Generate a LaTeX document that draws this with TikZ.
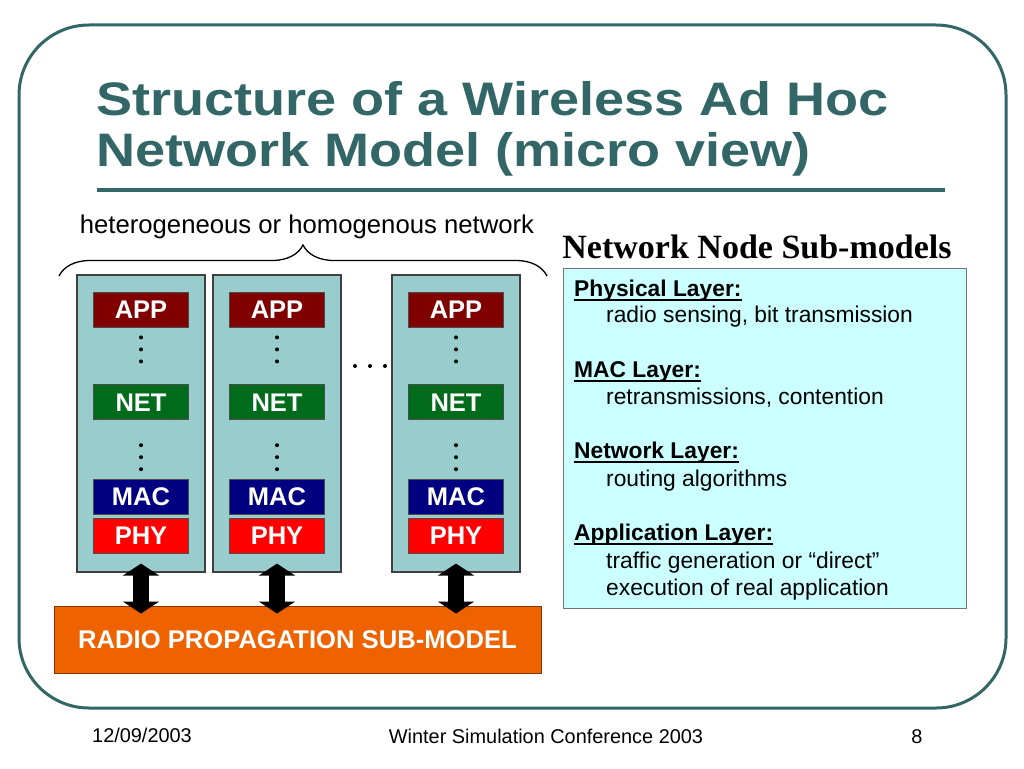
\documentclass[tikz,border=0pt]{standalone}
\usepackage{fontspec}
\setmainfont{Liberation Sans}
\newfontfamily\titlefont{Liberation Sans}[FakeStretch=1.15]
\newfontfamily\seriffont{Liberation Serif}
\newsavebox{\ulbox}
\newcommand{\layerul}[1]{\sbox\ulbox{#1}\rlap{\rule[-4.5pt]{\wd\ulbox}{1.8pt}}\usebox\ulbox}
\usepackage{tikz}
\usetikzlibrary{positioning,arrows.meta,decorations.pathreplacing}
\definecolor{SlideTeal}{HTML}{336666}
\definecolor{StackTeal}{HTML}{99CCCC}
\definecolor{AppRed}{HTML}{800000}
\definecolor{NetGreen}{HTML}{006B1A}
\definecolor{MacBlue}{HTML}{000080}
\definecolor{PhyRed}{HTML}{FF0000}
\definecolor{RadioOrange}{HTML}{EE6200}
\definecolor{InfoCyan}{HTML}{CCFFFF}
\tikzset{
  % Node stack
  SB/.style={rectangle,draw=black!75,fill=StackTeal,line width=1.2pt,
             minimum width=128pt,minimum height=297pt},
  % Base layer box
  LB/.style={rectangle,draw=black!70,line width=0.8pt,inner sep=0pt,
             minimum width=95pt,minimum height=35pt,text=white,
             font=\fontsize{25.5}{30}\selectfont\bfseries},
  % Layer colours
  lA/.style={LB,fill=AppRed},
  lN/.style={LB,fill=NetGreen},
  lM/.style={LB,fill=MacBlue},
  lP/.style={LB,fill=PhyRed},
  % Radio sub-model
  RB/.style={rectangle,draw=RadioOrange!55!black,fill=RadioOrange,line width=1pt,
             minimum width=487pt,minimum height=67pt,text=white,
             font=\fontsize{25.6}{30}\selectfont\bfseries},
  % Info box
  IB/.style={rectangle,draw=black!55,fill=InfoCyan,line width=1pt,
             minimum width=403pt,minimum height=340pt},
  % Double arrow
  dbl/.style={line width=16pt,
              {Triangle[length=12pt,width=36pt]}-{Triangle[length=12pt,width=36pt]}},
  % Text styles
  TT/.style={anchor=base west,inner sep=0pt,text=SlideTeal,
             font=\titlefont\bfseries\fontsize{47}{50}\selectfont},
  HD/.style={anchor=base west,inner sep=0pt,font=\fontsize{22.8}{27}\selectfont\bfseries},
  TX/.style={anchor=base west,inner sep=0pt,font=\fontsize{22.8}{27}\selectfont},
  FT/.style={anchor=base,inner sep=0pt,font=\fontsize{19.9}{23}\selectfont}
}
\begin{document}
\begin{tikzpicture}[x=1pt,y=-1pt]
  \fill[white] (0,0) rectangle (1024,768);
  \useasboundingbox (0,0) rectangle (1024,768);
  \draw[SlideTeal,line width=3pt,rounded corners=70pt] (19,25) rectangle (1006,708);

  % Title
  \node[TT] (title1) at (96,115) {Structure of a Wireless Ad Hoc};
  \node[TT] (title2) at (96,166) {Network Model (micro view)};
  \draw[SlideTeal,line width=4pt] (97,190) -- (945,190);

  % Network of stacks
  \node[anchor=base,font=\fontsize{25.7}{30}\selectfont] (netLabel) at (307,233)
       {heterogeneous or homogenous network};
  \draw[line width=1.3pt,decorate,decoration={brace,amplitude=31pt}] (59,276) -- (547,276);

  \node[SB] (stackA) at (141,423.5) {};
  \node[SB] (stackB) at (277,423.5) {};
  \node[SB] (stackC) at (456,423.5) {};

  \node[lA] (appA) at (141,309.5) {APP};
  \node[lN,below=57pt of appA] (netA) {NET};
  \node[lM,below=59pt of netA] (macA) {MAC};
  \node[lP,below=3pt of macA]  (phyA) {PHY};

  \node[lA] (appB) at (277,309.5) {APP};
  \node[lN,below=57pt of appB] (netB) {NET};
  \node[lM,below=59pt of netB] (macB) {MAC};
  \node[lP,below=3pt of macB]  (phyB) {PHY};

  \node[lA] (appC) at (456,309.5) {APP};
  \node[lN,below=57pt of appC] (netC) {NET};
  \node[lM,below=59pt of netC] (macC) {MAC};
  \node[lP,below=3pt of macC]  (phyC) {PHY};

  % dots between layers
  \fill (appA.south) ++(0,10) circle (2pt) ++(0,12) circle (2pt) ++(0,12) circle (2pt);
  \fill (netA.south) ++(0,25) circle (2pt) ++(0,12) circle (2pt) ++(0,12) circle (2pt);
  \fill (appB.south) ++(0,10) circle (2pt) ++(0,12) circle (2pt) ++(0,12) circle (2pt);
  \fill (netB.south) ++(0,25) circle (2pt) ++(0,12) circle (2pt) ++(0,12) circle (2pt);
  \fill (appC.south) ++(0,10) circle (2pt) ++(0,12) circle (2pt) ++(0,12) circle (2pt);
  \fill (netC.south) ++(0,25) circle (2pt) ++(0,12) circle (2pt) ++(0,12) circle (2pt);
  \fill (355,366) circle (2pt) (370,366) circle (2pt) (385,366) circle (2pt);

  \node[RB] (radio) at (297.5,639.5) {RADIO PROPAGATION SUB-MODEL};

  \draw[dbl] ([yshift=9pt]stackA.south) -- ([yshift=-8pt]stackA.south |- radio.north);
  \draw[dbl] ([yshift=9pt]stackB.south) -- ([yshift=-8pt]stackB.south |- radio.north);
  \draw[dbl] ([yshift=9pt]stackC.south) -- ([yshift=-8pt]stackC.south |- radio.north);

  % Sub-model list
  \node[anchor=base,font=\seriffont\bfseries\fontsize{34}{40}\selectfont] (subHead) at (757,258)
       {Network Node Sub-models};
  \node[IB] (info) at (764.5,438) {};
  \node[HD] (hPhy) at (574,296) {\layerul{Physical Layer:}};
  \node[TX] (tPhy) at (606,322) {radio sensing, bit transmission};
  \node[HD] (hMac) at (574,377) {\layerul{MAC Layer:}};
  \node[TX] (tMac) at (606,404) {retransmissions, contention};
  \node[HD] (hNet) at (574,458) {\layerul{Network Layer:}};
  \node[TX] (tNet) at (606,486) {routing algorithms};
  \node[HD] (hApp) at (574,540) {\layerul{Application Layer:}};
  \node[TX] (tApp1) at (606,568) {traffic generation or “direct”};
  \node[TX] (tApp2) at (606,595) {execution of real application};

  % Footer
  \node[FT] (date) at (142,742) {12/09/2003};
  \node[FT] (conf) at (546,743) {Winter Simulation Conference 2003};
  \node[FT] (page) at (917,743) {8};
\end{tikzpicture}
\end{document}
